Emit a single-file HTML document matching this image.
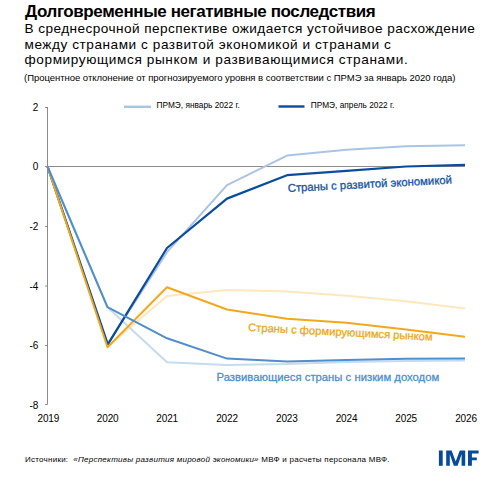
<!DOCTYPE html>
<html><head><meta charset="utf-8">
<style>
html,body{margin:0;padding:0;background:#fff;}
body{width:503px;height:485px;position:relative;overflow:hidden;font-family:"Liberation Sans",sans-serif;color:#000;}
.t{position:absolute;white-space:nowrap;line-height:1;}
#title{left:25px;top:2.7px;font-size:17px;font-weight:bold;letter-spacing:-0.4px;}
.sub{left:24.5px;font-size:13.6px;}
#note{left:24px;top:73.2px;font-size:9.5px;letter-spacing:-0.03px;}
#src{left:25px;top:456px;font-size:8px;letter-spacing:0.25px;white-space:pre;}
svg{position:absolute;left:0;top:0;}
</style></head><body>
<div id="title" class="t">Долговременные негативные последствия</div>
<div class="t sub" id="s1" style="top:22.1px;letter-spacing:0.44px">В среднесрочной перспективе ожидается устойчивое расхождение</div>
<div class="t sub" id="s2" style="top:37.5px;letter-spacing:0.555px">между странами с развитой экономикой и странами с</div>
<div class="t sub" id="s3" style="top:53.1px;letter-spacing:0.61px">формирующимся рынком и развивающимися странами.</div>
<div id="note" class="t">(Процентное отклонение от прогнозируемого уровня в соответствии с ПРМЭ за январь 2020 года)</div>

<svg width="503" height="485" viewBox="0 0 503 485" font-family="Liberation Sans, sans-serif">
  <!-- axes -->
  <g stroke="#8c8c8c" stroke-width="1" fill="none">
    <line x1="47.5" y1="107" x2="47.5" y2="404.5"/>
    <line x1="45" y1="166.5" x2="465" y2="166.5"/>
    <line x1="45" y1="107.5" x2="47.5" y2="107.5"/>
    <line x1="45" y1="226.5" x2="47.5" y2="226.5"/>
    <line x1="45" y1="286" x2="47.5" y2="286"/>
    <line x1="45" y1="345.5" x2="47.5" y2="345.5"/>
    <line x1="45" y1="404.5" x2="47.5" y2="404.5"/>
  </g>
  <g font-size="10" text-anchor="end" fill="#000">
    <text x="38.3" y="110.8">2</text>
    <text x="38.3" y="170.1">0</text>
    <text x="38.3" y="229.8">-2</text>
    <text x="38.3" y="289.6">-4</text>
    <text x="38.3" y="349.1">-6</text>
    <text x="38.3" y="408.6">-8</text>
  </g>
  <g font-size="10" letter-spacing="-0.15" text-anchor="middle" fill="#000">
    <text x="48.3" y="421.7">2019</text>
    <text x="107.7" y="421.7">2020</text>
    <text x="167.2" y="421.7">2021</text>
    <text x="227" y="421.7">2022</text>
    <text x="286.8" y="421.7">2023</text>
    <text x="346.5" y="421.7">2024</text>
    <text x="406.2" y="421.7">2025</text>
    <text x="466" y="421.7">2026</text>
  </g>
  <g fill="none" stroke-width="2" stroke-linejoin="round">
    <!-- light orange Jan -->
    <polyline stroke="#fde8bd" points="47.5,166.5 107.5,346.7 167,296 227,290 287,291.5 346.5,295.8 406,301.2 465,308.6"/>
    <!-- light low-income Jan -->
    <polyline stroke="#c5dbf0" points="47.5,166.5 107.5,307.3 167,362.2 227,364.9 287,364.1 346.5,361.9 406,361 465,360.5"/>
    <!-- light adv Jan -->
    <polyline stroke="#a9c4e4" points="47.5,166.5 107.5,344.5 167,252.2 227,185.2 287,155.6 346.5,149.8 406,146.3 465,145.3"/>
    <!-- dark adv April -->
    <polyline stroke="#0a4d9e" stroke-width="2.25" points="47.5,166.5 107.8,344.3 167,248 227,198.6 287,175.2 346.5,170.9 406,166.5 465,164.8"/>
    <!-- orange April -->
    <polyline stroke="#f2a81d" points="47.5,166.5 107.5,347.2 167,287.3 227,309.5 287,318.7 346.5,322.7 406,329.6 465,336.7"/>
    <!-- medium low-income April -->
    <polyline stroke="#4f8fcb" points="47.5,166.5 107.5,307.2 167,338.3 227,358.6 287,361.4 346.5,359.9 406,358.7 465,358.4"/>
  </g>
  <!-- legend -->
  <line x1="124" y1="106.8" x2="151" y2="106.8" stroke="#a9c4e4" stroke-width="2.4"/>
  <text x="156.5" y="108" font-size="8.3">ПРМЭ, январь 2022 г.</text>
  <line x1="278.5" y1="106.5" x2="304.5" y2="106.5" stroke="#0a4d9e" stroke-width="2.4"/>
  <text x="310.8" y="108" font-size="8.3">ПРМЭ, апрель 2022 г.</text>
  <!-- series labels -->
  <text x="288" y="192" font-size="11.3" fill="#1653a3" stroke="#1653a3" stroke-width="0.3" transform="rotate(-2.95 288 192)">Страны с развитой экономикой</text>
  <text x="248" y="331" font-size="11.2" fill="#f0a818" stroke="#f0a818" stroke-width="0.3" transform="rotate(3 248 331)">Страны с формирующимся рынком</text>
  <text x="216.5" y="381.3" font-size="11.3" fill="#4f8fcb" stroke="#4f8fcb" stroke-width="0.3">Развивающиеся страны с низким доходом</text>
  <!-- IMF logo -->
  <g fill="#054a9b">
    <rect x="438.9" y="450.5" width="3.8" height="15.3"/>
    <polygon points="446.2,465.8 446.2,450.5 451.6,450.5 455.7,461.5 459.8,450.5 465.2,450.5 465.2,465.8 461.6,465.8 461.6,454.2 457.6,465.8 453.8,465.8 449.8,454.2 449.8,465.8"/>
    <polygon points="468,465.8 468,450.5 478.6,450.5 478.6,453.6 471.9,453.6 471.9,457.5 476.8,457.5 476.8,460.3 471.9,460.3 471.9,465.8"/>
  </g>
</svg>
<div id="src" class="t">Источники:  <i>«Перспективы развития мировой экономики»</i> МВФ и расчеты персонала МВФ.</div>
</body></html>
